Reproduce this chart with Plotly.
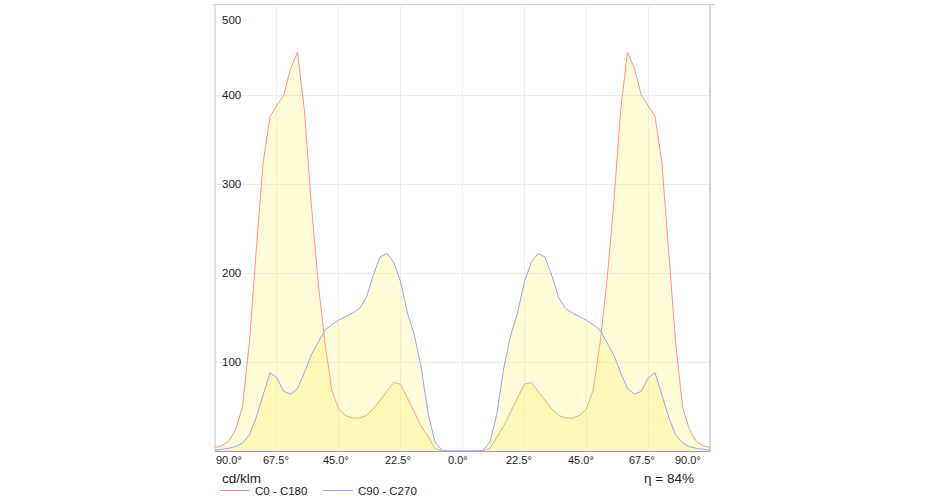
import plotly.graph_objects as go

# ---- data ----
angles = [-90, -87.5, -85, -82.5, -80, -77.5, -75, -72.5, -70, -67.5, -65, -62.5, -60, -57.5, -55, -52.5,
          -50, -47.5, -45, -42.5, -40, -37.5, -35, -32.5, -30, -27.5, -25, -22.5, -20, -17.5, -15, -12.5,
          -10, -7.5, -5, -2.5, 0, 2.5, 5, 7.5, 10, 12.5, 15, 17.5, 20, 22.5, 25, 27.5, 30, 32.5, 35, 37.5,
          40, 42.5, 45, 47.5, 50, 52.5, 55, 57.5, 60, 62.5, 65, 67.5, 70, 72.5, 75, 77.5, 80, 82.5, 85,
          87.5, 90]

c0_c180 = [4, 6, 11, 24, 50, 122, 226, 324, 376, 388, 400, 430, 448, 383, 278, 190,
           121, 68, 47, 40, 37, 37, 40, 47, 57, 67, 77, 75, 59, 44, 28, 16,
           3, 0, 0, 0, 0, 0, 0, 0, 3, 16, 28, 44, 59, 75, 77, 67, 57, 47, 40, 37,
           37, 40, 47, 68, 121, 190, 278, 383, 448, 430, 400, 388, 376, 324, 226, 122, 50, 24, 11,
           6, 4]

c90_c270 = [1, 2, 3, 5, 9, 18, 38, 63, 88, 82, 67, 64, 70, 88, 108, 122,
            136, 142, 147, 151, 155, 160, 172, 197, 218, 222, 212, 190, 155, 130, 93, 42,
            10, 1, 0, 0, 0, 0, 0, 1, 10, 42, 93, 130, 155, 190, 212, 222, 218, 197, 172, 160,
            155, 151, 147, 142, 136, 122, 108, 88, 70, 64, 67, 82, 88, 63, 38, 18, 9, 5, 3,
            2, 1]

x_tick_vals = [-90, -67.5, -45, -22.5, 0, 22.5, 45, 67.5, 90]
x_tick_text = ["90.0°", "67.5°", "45.0°", "22.5°", "0.0°", "22.5°", "45.0°", "67.5°", "90.0°"]
y_tick_vals = [100, 200, 300, 400, 500]
y_tick_text = ["100", "200", "300", "400", "500"]
series_names = ["C0 - C180", "C90 - C270"]
unit_label = "cd/klm"
efficiency_label = "η = 84%"

# ---- style ----
FONT = "Arial, 'Liberation Sans', sans-serif"
RED = "#ff8f8f"
BLUE = "#a0a0f5"
FILL = "rgba(255,240,60,0.2)"

fig = go.Figure()
for name, vals, col in [(series_names[0], c0_c180, RED), (series_names[1], c90_c270, BLUE)]:
    fig.add_trace(go.Scatter(x=angles, y=vals, mode="lines", line=dict(color=col, width=1),
                             fill="tozeroy", fillcolor=FILL, showlegend=False, hoverinfo="skip"))
for name, col in [(series_names[0], RED), (series_names[1], BLUE)]:
    fig.add_trace(go.Scatter(x=[None], y=[None], mode="lines", line=dict(color=col, width=1),
                             name=name, showlegend=True))

annotations = []
x_shifts = [14, -1, -3, -3, -4.5, -5, -5.5, -6.5, -22]
for v, t, s in zip(x_tick_vals, x_tick_text, x_shifts):
    annotations.append(dict(x=v, y=0, xref="x", yref="y", text=t, showarrow=False,
                            xanchor="center", yanchor="middle", xshift=s, yshift=-9,
                            font=dict(family=FONT, size=11, color="#222")))
for v, t in zip(y_tick_vals, y_tick_text):
    annotations.append(dict(x=0, y=v, xref="paper", yref="y", text=t, showarrow=False,
                            xanchor="left", yanchor="middle", xshift=5,
                            yshift=(-14 if v == 500 else 0),
                            font=dict(family=FONT, size=11.5, color="#222")))
annotations.append(dict(x=0, y=-0.061, xref="paper", yref="paper", text=unit_label, showarrow=False,
                        xanchor="left", yanchor="middle", xshift=5,
                        font=dict(family=FONT, size=13.5, color="#222")))
annotations.append(dict(x=0.972, y=-0.061, xref="paper", yref="paper", text=efficiency_label,
                        showarrow=False, xanchor="right", yanchor="middle",
                        font=dict(family=FONT, size=13.5, color="#222")))

shapes = [
    dict(type="line", xref="paper", yref="paper", x0=-0.004, x1=1.01, y0=1.003, y1=1.003,
         line=dict(color="#cfcfcf", width=1)),
    dict(type="line", xref="paper", yref="paper", x0=1, x1=1, y0=0, y1=1.003,
         line=dict(color="#b0b0b0", width=1)),
    dict(type="line", xref="paper", yref="paper", x0=0, x1=0, y0=0, y1=1.003,
         line=dict(color="#c4c4c4", width=1)),
]

fig.update_layout(
    width=930, height=500,
    margin=dict(l=215, r=220, t=6, b=49, autoexpand=False),
    paper_bgcolor="white", plot_bgcolor="white",
    font=dict(family=FONT, size=11, color="#222"),
    xaxis=dict(range=[-90, 90], tickvals=x_tick_vals[1:-1], showticklabels=False,
               showgrid=True, gridcolor="#efefef", gridwidth=1, zeroline=False,
               showline=True, linecolor="#9a9ae0", linewidth=1, ticks="", fixedrange=True),
    yaxis=dict(range=[0, 500], tickvals=y_tick_vals[:-1], showticklabels=False,
               showgrid=True, gridcolor="#ececec", gridwidth=1, zeroline=False,
               showline=False, ticks="", fixedrange=True),
    legend=dict(orientation="h", xref="container", yref="container",
                x=215 / 930, xanchor="left", y=1 - 476 / 500, yanchor="top",
                bgcolor="rgba(0,0,0,0)", font=dict(family=FONT, size=11.5, color="#222"),
                itemwidth=30, tracegroupgap=0, entrywidth=58, entrywidthmode="pixels"),
    annotations=annotations,
    shapes=shapes,
    showlegend=True,
)

fig.write_html("out.html", config={"displayModeBar": False},
               post_script="document.body.style.margin='0';")
